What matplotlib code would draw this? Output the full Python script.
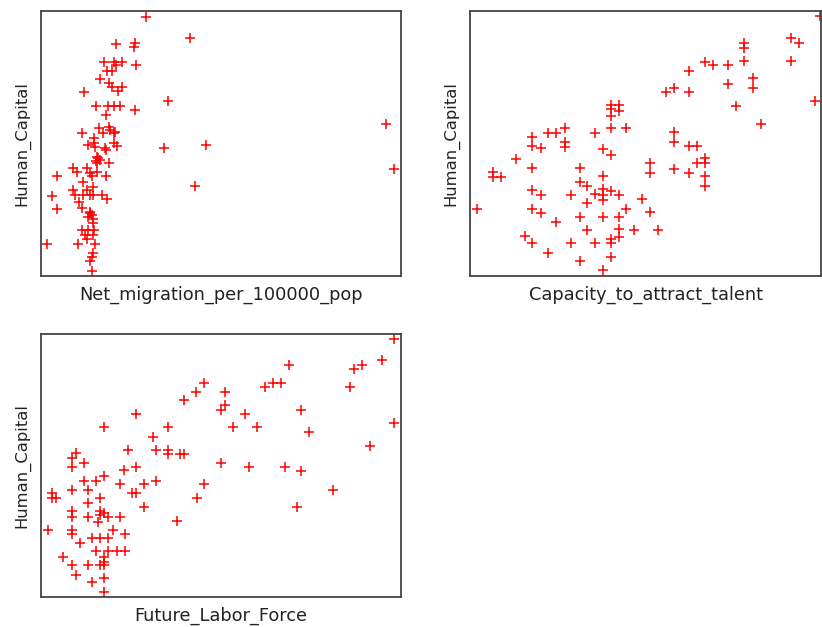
import numpy as np
import matplotlib.pyplot as plt

# values (no ticks shown, so units are arbitrary:
# x grows to the right, y is measured downward and the y axis is inverted)
net_migration = [146, 190, 116, 135, 134, 104, 114, 122, 116, 136, 107, 112, 100, 109, 112, 118,
                 122, 84, 168, 96, 108, 114, 120, 135, 106, 82, 99, 103, 109, 110, 114, 115, 94,
                 88, 94, 95, 105, 114, 117, 164, 206, 106, 97, 98, 96, 100, 97, 109, 73, 77, 87,
                 90, 97, 92, 57, 106, 83, 93, 73, 87, 195, 52, 75, 83, 90, 93, 102, 107, 79, 82,
                 57, 90, 92, 88, 93, 90, 93, 82, 88, 94, 85, 93, 87, 47, 78, 95, 93, 92, 90, 92,
                 386, 394]
hc_migration = [17, 38, 44, 43, 47, 62, 62, 62, 65, 65, 71, 71, 79, 83, 87, 91,
                87, 92, 101, 106, 106, 106, 106, 110, 115, 133, 128, 133, 127, 130, 133, 132, 138,
                145, 143, 147, 148, 143, 146, 148, 145, 150, 157, 158, 161, 160, 163, 163, 168, 172, 168,
                173, 172, 176, 176, 176, 182, 187, 190, 190, 186, 196, 195, 195, 195, 195, 195, 199, 202, 208,
                209, 212, 215, 217, 219, 213, 223, 230, 230, 230, 235, 235, 239, 244, 244, 244, 253, 257, 261, 271,
                124, 169]

attract_talent = [611, 619, 611, 619, 611, 611, 626, 595, 565, 548, 556, 532, 532, 541, 565, 565,
                  603, 611, 516, 532, 493, 493, 501, 580, 603, 580, 587, 532, 541, 571, 595, 603,
                  603, 603, 611, 619, 587, 642, 477, 532, 541, 626, 556, 580, 603, 619, 587, 619,
                  619, 634, 525, 532, 571, 595, 611, 611, 548, 611, 580, 603, 820, 791, 799, 744,
                  744, 791, 705, 713, 728, 744, 689, 753, 753, 728, 666, 674, 689, 815, 736, 761,
                  674, 674, 689, 697, 705, 697, 705, 650, 650, 674, 689, 705, 705, 650, 658]
hc_talent = [105, 105, 109, 111, 116, 128, 128, 133, 128, 133, 133, 137, 146, 148, 142, 147,
             149, 155, 159, 168, 172, 177, 177, 168, 176, 182, 186, 190, 195, 195, 194, 189,
             195, 200, 191, 195, 203, 199, 209, 209, 213, 209, 222, 217, 217, 217, 230, 229,
             237, 230, 236, 243, 243, 243, 239, 243, 253, 257, 261, 270, 16, 38, 43, 43,
             48, 61, 62, 65, 65, 61, 71, 78, 88, 84, 92, 88, 92, 101, 106, 124,
             132, 142, 146, 146, 158, 163, 163, 163, 173, 169, 173, 176, 186, 212, 230]

labor_force = [394, 382, 354, 362, 289, 350, 265, 273, 281, 225, 225, 221, 245, 301, 233, 257,
               394, 309, 370, 221, 249, 285, 301, 333, 297, 204, 196, 184, 136, 104, 168, 153,
               128, 156, 168, 168, 180, 184, 76, 72, 84, 72, 124, 136, 84, 96, 104, 120, 144,
               156, 204, 197, 52, 52, 56, 72, 88, 100, 132, 136, 88, 144, 72, 72, 88, 100, 100,
               104, 108, 98, 120, 177, 48, 72, 72, 113, 125, 80, 92, 100, 108, 96, 108, 117,
               125, 63, 104, 104, 100, 104, 72, 88, 76, 92, 104, 104]
hc_labor = [339, 360, 369, 365, 365, 387, 387, 383, 383, 392, 405, 410, 414, 410, 427, 427,
            423, 432, 446, 463, 467, 467, 471, 490, 507, 383, 392, 400, 414, 427, 427, 437,
            450, 450, 450, 454, 454, 454, 453, 458, 463, 467, 470, 467, 481, 481, 476, 484, 484,
            481, 484, 498, 493, 498, 498, 490, 490, 498, 493, 493, 503, 507, 511, 517, 517, 511, 515,
            513, 517, 522, 517, 521, 530, 530, 534, 530, 534, 543, 538, 538, 538, 551, 551, 551,
            551, 557, 557, 562, 565, 565, 565, 565, 575, 582, 578, 592]

W, H = 822, 627
fig = plt.figure(figsize=(W / 100, H / 100), dpi=100)

def panel(left, top, right, bottom, x, y, xlabel):
    ax = fig.add_axes([left / W, 1 - bottom / H, (right - left) / W, (bottom - top) / H])
    ax.scatter(x, y, marker='+', s=42, c='red', linewidths=1.1)
    ax.set_xlim(left, right)
    ax.set_ylim(bottom, top)
    ax.set_xticks([])
    ax.set_yticks([])
    for sp in ax.spines.values():
        sp.set_color('#444444')
        sp.set_linewidth(1.3)
    ax.set_xlabel(xlabel, fontsize=12.8, color='#222222', labelpad=7)
    ax.set_ylabel('Human_Capital', fontsize=11.8, color='#222222', labelpad=8)
    return ax

panel(41, 11, 401, 276, net_migration, hc_migration, 'Net_migration_per_100000_pop')
panel(470, 11, 821, 276, attract_talent, hc_talent, 'Capacity_to_attract_talent')
panel(41, 334, 401, 597, labor_force, hc_labor, 'Future_Labor_Force')

fig.savefig('out.png', dpi=100)
